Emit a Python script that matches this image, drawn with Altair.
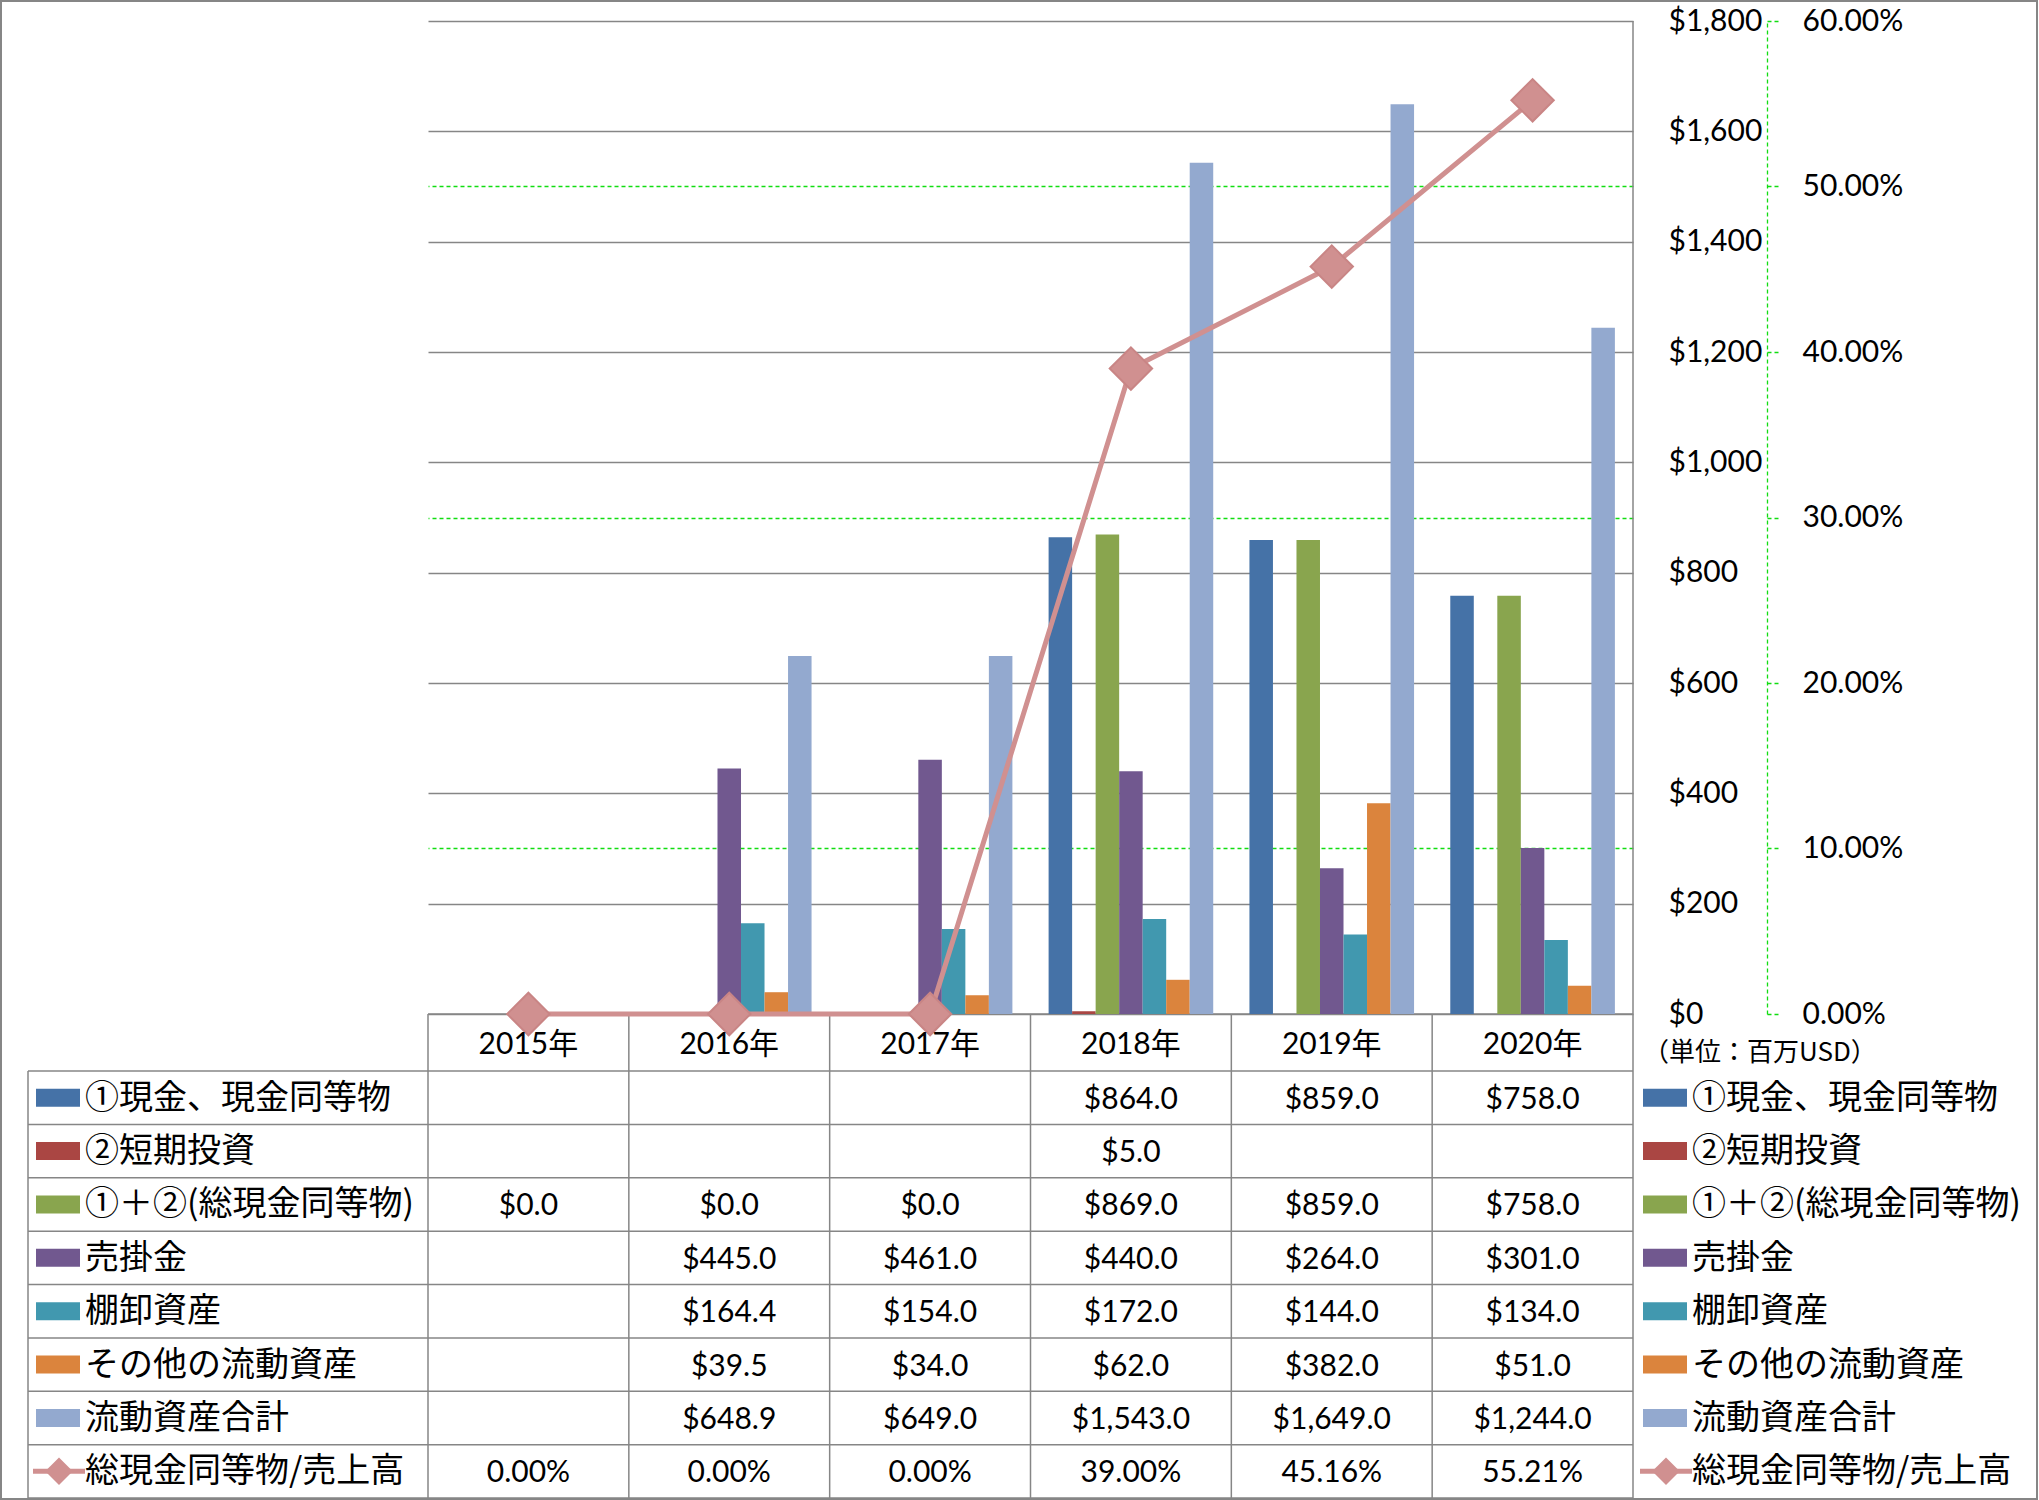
import altair as alt
import pandas as pd

# ---------------- data ----------------
years = ["2015年", "2016年", "2017年", "2018年", "2019年", "2020年"]

series_names = [
    "①現金、現金同等物",
    "②短期投資",
    "①＋②(総現金同等物)",
    "売掛金",
    "棚卸資産",
    "その他の流動資産",
    "流動資産合計",
]
cash = [None, None, None, 864.0, 859.0, 758.0]
short_inv = [None, None, None, 5.0, None, None]
total_cash = [0.0, 0.0, 0.0, 869.0, 859.0, 758.0]
receivables = [None, 445.0, 461.0, 440.0, 264.0, 301.0]
inventory = [None, 164.4, 154.0, 172.0, 144.0, 134.0]
other_assets = [None, 39.5, 34.0, 62.0, 382.0, 51.0]
current_total = [None, 648.9, 649.0, 1543.0, 1649.0, 1244.0]
series_values = [cash, short_inv, total_cash, receivables, inventory, other_assets, current_total]
series_colors = ["#4572A7", "#AA4643", "#89A54E", "#71588F", "#4198AF", "#DB843D", "#93A9CF"]

ratio_name = "総現金同等物/売上高"
ratio = [0.0, 0.0, 0.0, 0.39, 0.4516, 0.5521]
ratio_color = "#D09090"

dollar_ticks = [0, 200, 400, 600, 800, 1000, 1200, 1400, 1600, 1800]
pct_ticks = [0.0, 0.1, 0.2, 0.3, 0.4, 0.5, 0.6]
unit_label = "（単位：百万USD）"

# ---------------- layout ----------------
W, H = 1205, 993
HEADER_H = 57
ROW_H = 53.375
TABLE_TOP = H + HEADER_H
TABLE_BOTTOM = TABLE_TOP + 8 * ROW_H
TABLE_LEFT = -400
GRAY = "#868686"
GREEN = "#11DD11"
JP_FONT = "Noto Sans CJK JP"
NUM_FONT = "Lato, 'Noto Sans CJK JP'"
NUM_SIZE = 30
JP_SIZE = 34

rows = []
for name, vals in zip(series_names, series_values):
    for yr, v in zip(years, vals):
        if v is not None:
            rows.append({"series": name, "year": yr, "value": v})
bars_df = pd.DataFrame(rows)
ratio_df = pd.DataFrame({"year": years, "ratio": ratio})
years_df = pd.DataFrame({"year": years})
dummy = pd.DataFrame({"d": [0]})

x_scale = alt.Scale(domain=years, paddingInner=0, paddingOuter=0)


def xenc(**kw):
    return alt.X("year:N", sort=years, scale=x_scale, axis=None, **kw)


def hline(x1, x2, y, color=GRAY, w=1.5):
    return alt.Chart(dummy).mark_rule(color=color, strokeWidth=w).encode(
        x=alt.value(x1), x2=alt.value(x2), y=alt.value(y))


def vline(x, y1, y2, color=GRAY, w=1.5):
    return alt.Chart(dummy).mark_rule(color=color, strokeWidth=w).encode(
        x=alt.value(x), y=alt.value(y1), y2=alt.value(y2))


layers = []

# outer border
layers.append(alt.Chart(dummy).mark_rect(fill="transparent", stroke=GRAY, strokeWidth=2).encode(
    x=alt.value(-427), x2=alt.value(1609), y=alt.value(-20), y2=alt.value(TABLE_BOTTOM + 1)))

# table lines
layers.append(hline(0, W, H))
for k in range(9):
    layers.append(hline(TABLE_LEFT, W, TABLE_TOP + k * ROW_H))
layers.append(alt.Chart(years_df).mark_rule(color=GRAY, strokeWidth=1.5).encode(
    x=xenc(bandPosition=0), y=alt.value(H), y2=alt.value(TABLE_BOTTOM)))
layers.append(vline(W, 0, TABLE_BOTTOM))
layers.append(vline(TABLE_LEFT, TABLE_TOP, TABLE_BOTTOM))

# bars
bars = alt.Chart(bars_df).mark_bar().encode(
    x=xenc(),
    xOffset=alt.XOffset("series:N", sort=series_names,
                        scale=alt.Scale(domain=series_names, paddingInner=0, paddingOuter=0.77)),
    y=alt.Y("value:Q", scale=alt.Scale(domain=[0, 1800], nice=False),
            axis=alt.Axis(orient="right", values=dollar_ticks, format="$,d", grid=True,
                          gridColor=GRAY, gridWidth=1.5, domain=False, ticks=False,
                          labelAlign="left", labelPadding=35, labelFont=NUM_FONT,
                          labelFontSize=NUM_SIZE, labelColor="black", title=None,
                          labelBaseline="middle")),
    color=alt.Color("series:N", scale=alt.Scale(domain=series_names, range=series_colors), legend=None),
)
layers.append(bars)

# ratio line
line = alt.Chart(ratio_df).mark_line(
    color=ratio_color, strokeWidth=5,
    point=alt.OverlayMarkDef(shape="diamond", size=1800, filled=True, fill=ratio_color,
                             stroke="#C98585", strokeWidth=2, opacity=1),
).encode(
    x=xenc(),
    y=alt.Y("ratio:Q", scale=alt.Scale(domain=[0, 0.6], nice=False),
            axis=alt.Axis(orient="right", offset=134, values=pct_ticks, format=".2%", grid=True,
                          gridColor=GREEN, gridDash=[4, 3], gridWidth=1.3,
                          gridOpacity={"condition": {"test": "round(datum.value*10) % 2 == 0", "value": 0},
                                       "value": 1},
                          domain=True, domainColor=GREEN, domainDash=[4, 3], domainWidth=1.3,
                          ticks=True, tickColor=GREEN, tickDash=[4, 3], tickWidth=1.3, tickSize=11,
                          labelPadding=24, labelAlign="left", labelFont=NUM_FONT,
                          labelFontSize=NUM_SIZE, labelColor="black", title=None,
                          labelBaseline="middle")),
)
layers.append(line)

# year header
layers.append(alt.Chart(years_df).mark_text(font=NUM_FONT, fontSize=NUM_SIZE, color="black",
                                            align="center", baseline="middle").encode(
    x=xenc(), y=alt.value(H + 31), text="year:N"))

# unit label
layers.append(alt.Chart(pd.DataFrame({"t": [unit_label]})).mark_text(
    font=JP_FONT, fontSize=26, color="black", align="left", baseline="middle").encode(
    x=alt.value(1215), y=alt.value(H + 39), text="t:N"))

# table rows + legends
all_names = series_names + [ratio_name]
for i, name in enumerate(all_names):
    cy = TABLE_TOP + ROW_H * (i + 0.5)
    if i < len(series_names):
        df = bars_df[bars_df["series"] == name]
        layers.append(alt.Chart(df).mark_text(font=NUM_FONT, fontSize=NUM_SIZE, color="black",
                                              align="center", baseline="middle").encode(
            x=xenc(), y=alt.value(cy + 2), text=alt.Text("value:Q", format="$,.1f")))
        for sx in (-392, 1215):
            layers.append(alt.Chart(dummy).mark_rect(color=series_colors[i]).encode(
                x=alt.value(sx), x2=alt.value(sx + 44), y=alt.value(cy - 9), y2=alt.value(cy + 9)))
    else:
        layers.append(alt.Chart(ratio_df).mark_text(font=NUM_FONT, fontSize=NUM_SIZE, color="black",
                                                    align="center", baseline="middle").encode(
            x=xenc(), y=alt.value(cy + 2), text=alt.Text("ratio:Q", format=".2%")))
        for sx in (-395, 1212):
            layers.append(hline(sx, sx + 52, cy, color=ratio_color, w=5))
            layers.append(alt.Chart(dummy).mark_point(shape="diamond", size=760, filled=True,
                                                      color=ratio_color, opacity=1).encode(
                x=alt.value(sx + 26), y=alt.value(cy)))
    for tx in (-343, 1264):
        layers.append(alt.Chart(pd.DataFrame({"t": [name]})).mark_text(
            font=JP_FONT, fontSize=JP_SIZE, color="black", align="left", baseline="middle").encode(
            x=alt.value(tx), y=alt.value(cy + 1), text="t:N"))

chart = alt.layer(*layers).resolve_scale(y="independent").properties(
    width=W, height=H, padding=0, background="white"
).configure_view(stroke=None)

chart.save("out.html", embed_options={"renderer": "svg", "actions": False})
